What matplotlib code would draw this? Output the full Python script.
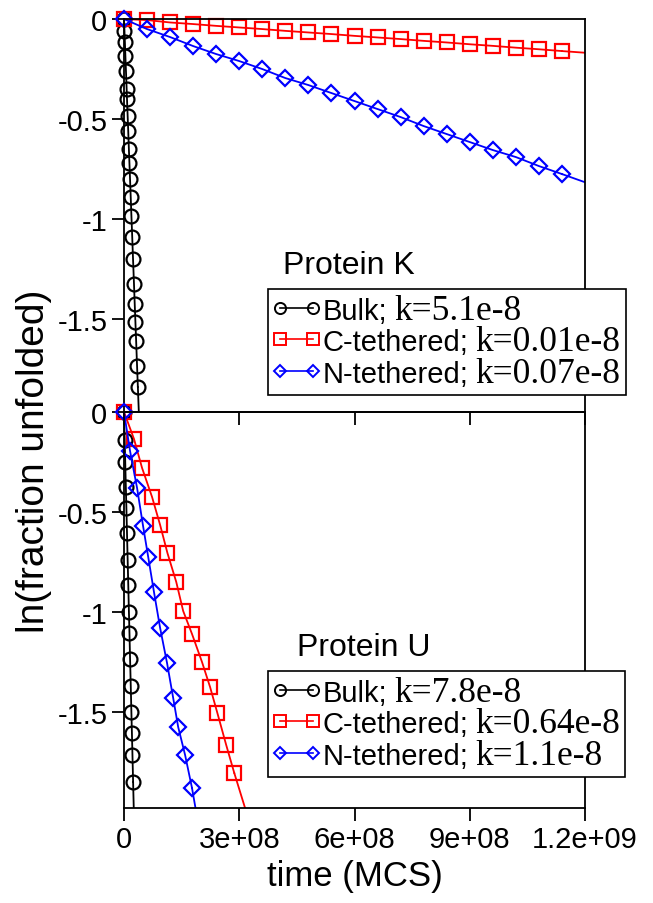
import numpy as np
import matplotlib
matplotlib.use('Agg')
import matplotlib.pyplot as plt
from matplotlib.lines import Line2D
from matplotlib.offsetbox import TextArea, DrawingArea, HPacker, VPacker, AnchoredOffsetbox

plt.rcParams['font.family'] = ['Liberation Sans', 'DejaVu Sans']
plt.rcParams['axes.unicode_minus'] = False

# Protein K (top panel), time in MCS, y = ln(fraction unfolded)
k_bulk_t = np.array([0, 0.12, 0.23, 0.36, 0.51, 0.69, 0.78, 0.95, 1.1, 1.27, 1.41,
                     1.57, 1.75, 1.93, 2.14, 2.35, 2.6, 2.79, 2.97, 3.16, 3.4, 3.61]) * 1e7
k_bulk_y = np.array([0, -0.06, -0.115, -0.185, -0.26, -0.35, -0.4, -0.485, -0.56, -0.65, -0.72,
                     -0.8, -0.89, -0.985, -1.09, -1.2, -1.325, -1.425, -1.515, -1.61, -1.735, -1.84])
k_ctet_t = np.array([0, 0.6, 1.2, 1.8, 2.4, 3.0, 3.6, 4.2, 4.8, 5.4, 6.0,
                     6.6, 7.2, 7.8, 8.4, 9.0, 9.6, 10.2, 10.8, 11.4]) * 1e8
k_ctet_y = np.array([0, -0.005, -0.017, -0.025, -0.034, -0.042, -0.05, -0.059, -0.067, -0.075, -0.084,
                     -0.092, -0.1, -0.109, -0.117, -0.126, -0.134, -0.143, -0.151, -0.16])
k_ntet_t = k_ctet_t.copy()
k_ntet_y = np.array([0, -0.05, -0.09, -0.135, -0.175, -0.21, -0.25, -0.295, -0.33, -0.37, -0.41,
                     -0.45, -0.49, -0.535, -0.575, -0.615, -0.655, -0.69, -0.735, -0.775])

# Protein U (bottom panel)
u_bulk_t = np.array([0, 0.18, 0.32, 0.48, 0.62, 0.78, 0.95, 1.11, 1.28, 1.42, 1.58,
                     1.76, 1.92, 2.06, 2.2, 2.37]) * 1e7
u_bulk_y = np.array([0, -0.14, -0.25, -0.375, -0.48, -0.605, -0.74, -0.865, -1.0, -1.105, -1.235,
                     -1.37, -1.5, -1.605, -1.715, -1.85])
u_ctet_t = np.array([0, 0.26, 0.47, 0.73, 0.94, 1.13, 1.36, 1.54, 1.77, 2.03, 2.24,
                     2.43, 2.66, 2.87]) * 1e8
u_ctet_y = np.array([0, -0.135, -0.28, -0.425, -0.565, -0.705, -0.85, -0.995, -1.11, -1.25, -1.375,
                     -1.505, -1.665, -1.805])
u_ntet_t = np.array([0, 0.157, 0.34, 0.496, 0.63, 0.78, 0.94, 1.12, 1.28, 1.41, 1.59, 1.77]) * 1e8
u_ntet_y = np.array([0, -0.195, -0.38, -0.57, -0.725, -0.9, -1.08, -1.255, -1.43, -1.575, -1.715, -1.88])

names = ['Bulk;', 'C-tethered;', 'N-tethered;']
k_rates = ['k=5.1e-8', 'k=0.01e-8', 'k=0.07e-8']
u_rates = ['k=7.8e-8', 'k=0.64e-8', 'k=1.1e-8']
colors = ['black', '#ff0000', '#0000ff']
markers = ['o', 's', 'D']
msizes = [10, 10, 8]

xticks = [0, 3e8, 6e8, 9e8, 1.2e9]
xticklabels = ['0', '3e+08', '6e+08', '9e+08', '1.2e+09']
yticks = [0, -0.5, -1, -1.5]
yticklabels = ['0', '-0.5', '-1', '-1.5']
xmax = 1.2e9

fig = plt.figure(figsize=(6.53, 9.04), dpi=100)
ax1 = fig.add_axes([0.1899, 0.5431, 0.706, 0.4347])
ax2 = fig.add_axes([0.1899, 0.1051, 0.706, 0.4381])
ax2.patch.set_visible(False)


def make_legend(ax, rates, top):
    rows = []
    for name, rate, c, m in zip(names, rates, colors, markers):
        da = DrawingArea(34, 16, 0, 3)
        da.add_artist(Line2D([5, 29], [8, 8], color=c, lw=1.2, marker=m,
                             ms=8 if m != 'D' else 6.5, mfc='none', mec=c, mew=1.4))
        txt = HPacker(children=[TextArea(name, textprops=dict(fontsize=21)),
                                TextArea(rate, textprops=dict(fontsize=25.5, family='Liberation Serif'))],
                      align='baseline', pad=0, sep=5)
        rows.append(HPacker(children=[da, txt], align='baseline', pad=0, sep=2))
    box = VPacker(children=rows, align='left', pad=0, sep=-1)
    anch = AnchoredOffsetbox(loc='upper left', child=box, pad=0.35, borderpad=0,
                             bbox_to_anchor=(268 / 653, top), bbox_transform=fig.transFigure,
                             frameon=True)
    anch.patch.set_boxstyle('square', pad=0)
    anch.patch.set_edgecolor('black')
    anch.patch.set_linewidth(1.2)
    anch.set_zorder(6)
    ax.add_artist(anch)


def draw_panel(ax, series, rates, ylo, legend_top):
    for (t, y), c, m, ms in zip(series, colors, markers, msizes):
        # slope through origin, used to carry the line on past the last point
        k = np.sum(t * y) / np.sum(t * t)
        ax.plot([t[-1], xmax], [y[-1], y[-1] + k * (xmax - t[-1])], color=c, lw=1.3)
        ax.plot(t, y, color=c, lw=1.3, marker=m, ms=ms, mfc='none', mec=c,
                mew=1.6, clip_on=False)
    ax.set_xlim(0, xmax)
    ax.set_ylim(ylo, 0)
    ax.set_xticks(xticks)
    ax.set_yticks(yticks)
    ax.set_yticklabels(yticklabels)
    ax.tick_params(direction='out', length=9, width=1.3, labelsize=21, pad=3,
                   top=False, right=False)
    for s in ax.spines.values():
        s.set_linewidth(1.3)
    make_legend(ax, rates, legend_top)


draw_panel(ax1, [(k_bulk_t, k_bulk_y), (k_ctet_t, k_ctet_y), (k_ntet_t, k_ntet_y)],
           k_rates, -1.965, 1 - 290 / 904)
draw_panel(ax2, [(u_bulk_t, u_bulk_y), (u_ctet_t, u_ctet_y), (u_ntet_t, u_ntet_y)],
           u_rates, -1.98, 1 - 672 / 904)

ax1.set_xticklabels([])
ax2.set_xticklabels(xticklabels)

fig.text(283 / 653, 1 - 266 / 904, 'Protein K', fontsize=23, va='center', ha='left')
fig.text(297 / 653, 1 - 648 / 904, 'Protein U', fontsize=23, va='center', ha='left')
fig.text(0.052, 0.49, 'ln(fraction unfolded)', fontsize=28, rotation=90, va='center', ha='center')
fig.text(0.544, 0.03, 'time (MCS)', fontsize=25, va='center', ha='center')

fig.savefig('out.png', dpi=100)
